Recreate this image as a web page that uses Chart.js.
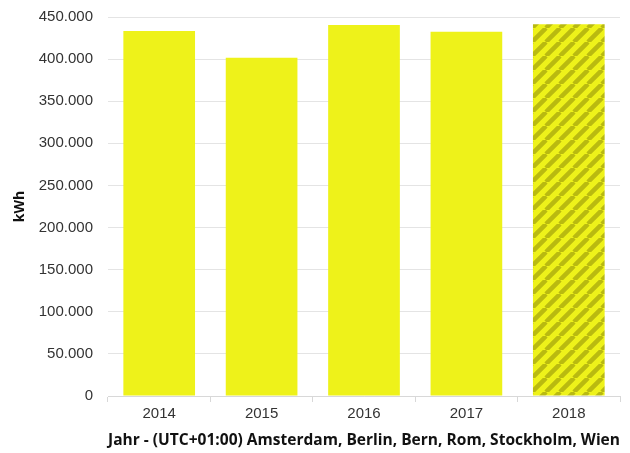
<!DOCTYPE html>
<html>
<head>
<meta charset="utf-8">
<script src="https://cdn.jsdelivr.net/npm/chart.js@4"></script>
<style>
  body { margin: 0; background: #fff; }
  #wrap { width: 630px; height: 453px; position: relative; }
</style>
</head>
<body>
<div id="wrap"><canvas id="chart"></canvas></div>
<script>
const years = ["2014", "2015", "2016", "2017", "2018"];
const energy = [433500, 401500, 440500, 432500, 441500];
const yTicks = [0, 50000, 100000, 150000, 200000, 250000, 300000, 350000, 400000, 450000];

const yellow = "#eef21a";

// striped fill for the last (incomplete) year
function makeStripes() {
  const c = document.createElement("canvas");
  c.width = 14; c.height = 14;
  const g = c.getContext("2d");
  g.fillStyle = yellow;
  g.fillRect(0, 0, 14, 14);
  g.strokeStyle = "#b9ba10";
  g.lineWidth = 4.5;
  g.beginPath();
  for (let k = -14; k <= 28; k += 14) {
    g.moveTo(k, 14);
    g.lineTo(k + 14, 0);
  }
  g.stroke();
  return g.createPattern(c, "repeat");
}

const stripes = makeStripes();
const fills = years.map((y, i) => i === years.length - 1 ? stripes : yellow);

const fmt = v => v.toString().replace(/\B(?=(\d{3})+(?!\d))/g, ".");

new Chart(document.getElementById("chart"), {
  type: "bar",
  data: {
    labels: years,
    datasets: [{
      data: energy,
      backgroundColor: fills,
      borderWidth: 0,
      categoryPercentage: 0.7,
      barPercentage: 1
    }]
  },
  options: {
    responsive: true,
    maintainAspectRatio: false,
    animation: false,
    layout: { padding: { top: 17, right: 10, left: 0, bottom: 0 } },
    plugins: { legend: { display: false }, tooltip: { enabled: false } },
    scales: {
      x: {
        afterFit: s => { s.height = 57; },
        grid: { display: true, drawOnChartArea: false, drawTicks: true, tickLength: 6, color: "#d8d8d8" },
        border: { color: "#d8d8d8" },
        ticks: { color: "#333", font: { family: "Liberation Sans", size: 15 }, padding: 3 },
        title: {
          display: true,
          text: "Jahr - (UTC+01:00) Amsterdam, Berlin, Bern, Rom, Stockholm, Wien",
          color: "#111",
          font: { family: "Open Sans", size: 15.8, weight: "bold" },
          align: "center",
          padding: { top: 0, bottom: 3 }
        }
      },
      y: {
        min: 0,
        max: 450000,
        afterFit: s => { s.width = 108; },
        afterBuildTicks: axis => { axis.ticks = yTicks.map(v => ({ value: v })); },
        grid: { color: "#e4e4e4", drawTicks: true, tickLength: 13, tickColor: "rgba(0,0,0,0)" },
        border: { display: false },
        ticks: {
          color: "#333",
          font: { family: "Liberation Sans", size: 15 },
          padding: 2,
          callback: v => fmt(v)
        },
        title: {
          display: true,
          text: "kWh",
          color: "#111",
          font: { family: "Open Sans", size: 14, weight: "bold" },
          padding: { top: 12, bottom: 0 }
        }
      }
    }
  }
});
</script>
</body>
</html>
